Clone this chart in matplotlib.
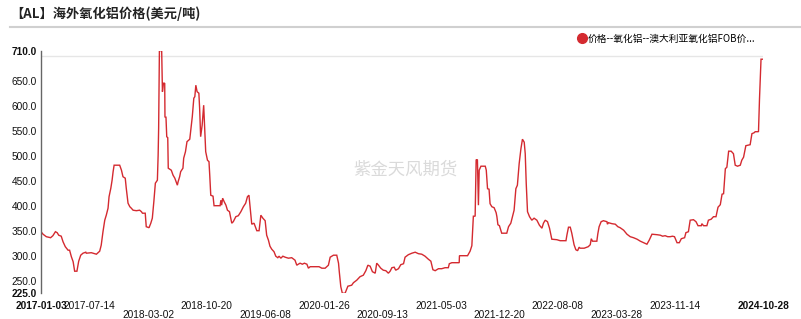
import matplotlib
matplotlib.use("Agg")
import matplotlib.pyplot as plt
import matplotlib.dates as mdates
from matplotlib.lines import Line2D
import pandas as pd

plt.rcParams['font.family'] = ['Liberation Sans', 'Noto Sans CJK SC', 'DejaVu Sans']

start_date = "2017-01-03"
end_date = "2024-10-28"

# days since start_date
days = [0, 8, 21, 38, 47, 57, 64, 70, 80, 87, 96, 107, 113, 120, 127, 133, 142, 149, 157, 166,
        177, 179, 199, 219, 232, 238, 245, 252, 258, 265, 269, 276, 281, 285, 289, 311, 318, 324,
        333, 337, 344, 351, 357, 364, 377, 390, 397, 401, 412, 416, 427, 434, 440, 446, 452, 460,
        463, 465, 468, 477, 480, 484, 489, 490, 494, 497, 501, 503, 515, 522, 529, 539, 542, 548,
        552, 561, 564, 571, 577, 588, 594, 598, 604, 608, 612, 617, 624, 627, 631, 637, 643, 647,
        651, 658, 664, 667, 671, 680, 684, 700,
        708, 711, 714, 718, 724, 731, 737, 745, 754, 760, 770, 780, 790, 800, 809, 816, 822, 833,
        842, 853, 862, 869, 877, 886, 892, 899, 905, 912, 921, 928, 936, 941, 948, 956, 965, 978,
        991, 1004, 1011, 1017, 1024, 1033, 1041, 1051, 1057, 1064, 1073, 1083, 1099, 1110, 1123,
        1136, 1143, 1156, 1169, 1176, 1179, 1185, 1191, 1202, 1213, 1228, 1235, 1248, 1261, 1274,
        1284, 1292, 1301, 1310, 1321, 1327, 1334, 1343, 1353, 1363, 1373,
        1380, 1387, 1396, 1402, 1413, 1422, 1433, 1439, 1452, 1466, 1479, 1492, 1505, 1518, 1531,
        1541, 1549, 1558, 1571, 1584, 1597, 1610, 1614, 1624, 1644, 1653, 1654, 1670, 1686, 1696,
        1703, 1709, 1716, 1720, 1725, 1729, 1732, 1739, 1756, 1760, 1765, 1771, 1775, 1782, 1791,
        1799, 1802, 1806, 1812, 1821, 1835, 1841, 1848, 1857, 1865, 1870, 1877, 1883, 1890, 1897,
        1903, 1910, 1914, 1918, 1923, 1931, 1940, 1949, 1960, 1970, 1980, 1986, 1993, 2002, 2010,
        2019, 2039, 2052, 2065, 2075, 2079, 2085, 2092, 2098, 2107, 2114, 2121, 2127, 2131, 2147,
        2163,
        2171, 2175, 2180, 2197, 2201, 2206, 2214, 2223, 2237, 2239, 2243, 2257, 2270, 2280, 2289,
        2303, 2316, 2329, 2342, 2356, 2369, 2382, 2395, 2404, 2415, 2435, 2448, 2457, 2467, 2477,
        2487, 2496, 2504, 2514, 2523, 2531, 2544, 2549, 2559, 2566, 2579, 2589, 2597, 2610, 2612,
        2619, 2632, 2638, 2649, 2658, 2668, 2676, 2685, 2692, 2698, 2705, 2711, 2718, 2728, 2737,
        2744, 2753, 2764, 2770, 2777, 2786, 2803, 2810, 2819, 2823, 2836, 2840, 2846, 2856]

prices = [348, 343, 338, 336, 340, 348, 346, 341, 339, 328, 318, 311, 311, 298, 288, 269, 269, 289, 301, 305,
          307, 305, 306, 303, 309, 321, 348, 371, 381, 395, 418, 435, 451, 468, 481, 481, 471, 458,
          455, 435, 405, 398, 395, 391, 390, 391, 388, 385, 385, 358, 356, 365, 375, 408, 445, 451,
          501, 555, 710, 710, 628, 645, 645, 577, 577, 538, 536, 475, 471, 461, 455, 441, 448, 458,
          468, 475, 495, 508, 528, 533, 561, 578, 615, 618, 641, 628, 625, 595, 538, 561, 601, 555,
          508, 491, 488, 461, 421, 419, 400, 400,
          400, 411, 401, 415, 408, 401, 391, 388, 365, 368, 378, 380, 388, 398, 405, 418, 421, 363,
          365, 350, 350, 381, 375, 370, 341, 331, 319, 313, 308, 299, 296, 299, 295, 299, 297, 295,
          296, 291, 281, 283, 285, 283, 285, 283, 275, 278, 278, 278, 278, 275, 275,
          281, 297, 301, 301, 285, 268, 238, 225, 225, 239, 241, 246, 251, 258, 261,
          270, 281, 279, 268, 265, 285, 281, 275, 271, 270, 265,
          269, 276, 277, 271, 274, 282, 284, 297, 302, 305, 307, 304, 303, 299, 293,
          289, 272, 270, 274, 274, 276, 276, 284, 286, 286, 286, 300, 300, 300, 309,
          320, 379, 379, 492, 492, 401, 471, 479, 479, 471, 434, 433, 404, 398, 396,
          386, 378, 362, 360, 345, 345, 345, 358, 365, 381, 391, 434, 441, 484, 514,
          533, 527, 504, 444, 388, 378, 371, 375, 371, 361, 355, 365, 371, 368, 355,
          333, 332, 330, 330, 330, 342, 357, 357, 345, 322, 312, 310, 317, 315, 315,
          318,
          322, 334, 329, 329, 344, 358, 368, 370, 368, 363, 366, 364, 363, 358, 356,
          351, 343, 338, 336, 333, 329, 326, 323, 331, 343, 342, 341, 339, 340, 338,
          338, 339, 338, 326, 326, 334, 336, 346, 348, 371, 372, 368, 360, 360, 364,
          360, 360, 371, 373, 378, 378, 397, 402, 423, 424, 474, 477, 509, 509, 504,
          481, 479, 481, 491, 497, 520, 522, 544, 546, 548, 548, 614, 693, 693]

tick_dates = ["2017-01-03", "2017-07-14", "2018-03-02", "2018-10-20", "2019-06-08", "2020-01-26",
              "2020-09-13", "2021-05-03", "2021-12-20", "2022-08-08", "2023-03-28", "2023-11-14",
              "2024-10-28"]
tick_row = [0, 0, 1, 0, 1, 0, 1, 0, 1, 0, 1, 0, 0]
y_ticks = [225, 250, 300, 350, 400, 450, 500, 550, 600, 650, 710]
y_grid = [250, 300, 350, 400, 450, 500, 550, 600, 650, 700]

title = "【AL】海外氧化铝价格(美元/吨)"
series_name = "价格--氧化铝--澳大利亚氧化铝FOB价..."
watermark = "紫金天风期货"

red = "#d42a30"

dates = pd.Timestamp(start_date) + pd.to_timedelta(days, unit="D")

W, H = 801, 319
fig = plt.figure(figsize=(W / 100, H / 100), dpi=100)
ax = fig.add_axes([41 / W, 1 - 293.2 / H, (763.3 - 41) / W, (293.2 - 50.7) / H])

ax.plot(dates, prices, color=red, lw=1.0, solid_joinstyle="miter")

ax.set_xlim(pd.Timestamp(start_date), pd.Timestamp(end_date))
ax.set_ylim(225, 710)

# y ticks
ax.set_yticks(y_ticks)
ax.set_yticklabels([f"{v:.1f}" for v in y_ticks])
ax.set_yticks(y_grid, minor=True)
ax.tick_params(axis="y", which="both", length=0, pad=3, labelsize=7.3, colors="#111111")
for lbl, v in zip(ax.get_yticklabels(), y_ticks):
    if v in (225, 710):
        lbl.set_fontweight("bold")
ax.grid(False)
ax.grid(True, which="minor", axis="y", color="#e6e6e6", lw=1)

# x ticks
td = pd.to_datetime(tick_dates)
ax.set_xticks(td)
ax.set_xticklabels([("\n" if r else "") + d for d, r in zip(tick_dates, tick_row)])
ax.set_xticks(td[1:-1], minor=True)
ax.tick_params(axis="x", which="both", length=0, pad=5.5, labelsize=7.3, colors="#111111")
for i, lbl in enumerate(ax.get_xticklabels()):
    lbl.set_linespacing(0.85)
    if i in (0, len(tick_dates) - 1):
        lbl.set_fontweight("bold")
ax.grid(True, which="minor", axis="x", color="#e6e6e6", lw=1)
ax.set_axisbelow(True)

for s in ["top", "right", "bottom"]:
    ax.spines[s].set_visible(False)
ax.spines["left"].set_color("#666666")
ax.spines["left"].set_linewidth(1)

# watermark
fig.text(405 / W, 1 - 170 / H, watermark, fontsize=12.5, color="#dadada",
         ha="center", va="center", family=["Noto Sans CJK SC"])

# title and separator
fig.text(10 / W, 1 - 14 / H, title, fontsize=9.5, fontweight="bold", color="#222222",
         ha="left", va="center", family=["Noto Sans CJK SC"])
fig.add_artist(Line2D([10 / W, 1], [1 - 27 / H, 1 - 27 / H], color="#d0d0d0", lw=1.5))

# legend
handle = Line2D([], [], marker="o", ls="", color=red, markersize=7)
fig.legend([handle], [series_name], loc="center left", bbox_to_anchor=(578 / W, 1 - 38.5 / H),
           frameon=False, fontsize=7, handlelength=0.8, handletextpad=0.2, borderpad=0,
           borderaxespad=0, prop={"family": ["Noto Sans CJK SC"], "size": 7})

fig.savefig("out.png", dpi=100)
